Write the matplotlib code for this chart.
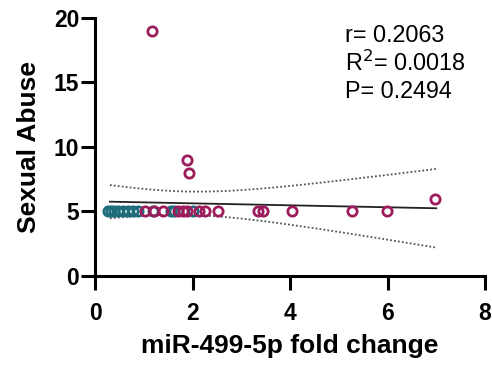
import numpy as np
import matplotlib
matplotlib.use("Agg")
import matplotlib.pyplot as plt

plt.rcParams['font.family'] = ['Liberation Sans', 'DejaVu Sans']

# Data
teal_x = [0.27, 0.32, 0.38, 0.47, 0.57, 0.67, 0.78, 0.88, 1.18, 1.55, 1.62, 2.00]
teal_y = [5, 5, 5, 5, 5, 5, 5, 5, 5, 5, 5, 5]
mag_x = [1.02, 1.20, 1.39, 1.70, 1.80, 1.88, 2.12, 2.25, 2.52, 3.34, 3.44, 4.04, 5.27, 5.99, 6.97, 1.16, 1.88, 1.92]
mag_y = [5, 5, 5, 5, 5, 5, 5, 5, 5, 5, 5, 5, 5, 5, 6, 19, 9, 8]

fit_x = [0.3, 7.0]
fit_y = [5.76, 5.25]
# confidence band: half-width = sqrt(ci_a + ci_b*(x-ci_xm)^2)
ci_a, ci_b, ci_xm = 0.826, 0.326, 1.9

stats_lines = ["r= 0.2063", "R$^2$= 0.0018", "P= 0.2494"]
x_ticks = [0, 2, 4, 6, 8]
y_ticks = [0, 5, 10, 15, 20]

teal = "#1c6c7c"
mag = "#9c1c5c"

fig = plt.figure(figsize=(4.92, 3.67), dpi=100)
ax = fig.add_axes([0.1937, 0.248, 0.7921, 0.703])

bx = np.linspace(fit_x[0], fit_x[1], 100)
slope = (fit_y[1] - fit_y[0]) / (fit_x[1] - fit_x[0])
by = fit_y[0] + slope * (bx - fit_x[0])
hw = np.sqrt(ci_a + ci_b * (bx - ci_xm) ** 2)
ax.plot(bx, by + hw, ls=(0, (1, 1.2)), color="#555555", lw=1.3, zorder=2)
ax.plot(bx, by - hw, ls=(0, (1, 1.2)), color="#555555", lw=1.3, zorder=2)
ax.plot(fit_x, fit_y, color="#222222", lw=1.3, zorder=2)

ax.plot(teal_x, teal_y, 'o', mfc='none', mec=teal, ms=6.7, mew=2.0, zorder=3)
ax.plot(mag_x, mag_y, 'o', mfc='none', mec=mag, ms=6.7, mew=2.0, zorder=4)

ax.set_xlim(0, 8)
ax.set_ylim(0, 20)
ax.set_xticks(x_ticks)
ax.set_yticks(y_ticks)
for s in ['top', 'right']:
    ax.spines[s].set_visible(False)
for s in ['left', 'bottom']:
    ax.spines[s].set_linewidth(2.2)
ax.tick_params(width=2.2, length=10, labelsize=16.5)
ax.tick_params(axis='x', pad=9)
ax.tick_params(axis='y', pad=1.5)
for lab in ax.get_xticklabels() + ax.get_yticklabels():
    lab.set_fontweight('bold')

ax.set_xlabel("miR-499-5p fold change", fontsize=19, fontweight='bold')
ax.set_ylabel("Sexual Abuse", fontsize=19, fontweight='bold', labelpad=9)
ax.xaxis.set_label_coords(0.5, -0.225)

for i, t in enumerate(stats_lines):
    fig.text(345 / 492, 1 - (35 + 28.5 * i) / 367, t, fontsize=16.8, va='center', ha='left')

fig.savefig("out.png", dpi=100)
